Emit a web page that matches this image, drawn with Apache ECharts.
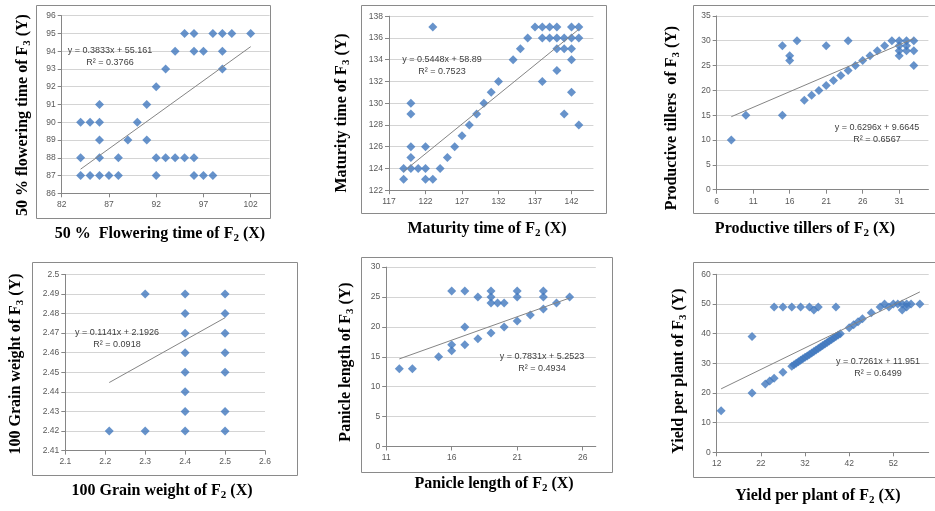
<!DOCTYPE html>
<html><head><meta charset="utf-8">
<script src="https://cdn.jsdelivr.net/npm/echarts@6/dist/echarts.min.js"></script>
<style>html,body{margin:0;padding:0;background:#fff}#c{width:935px;height:511px}</style>
</head><body><div id="c"></div>
<script>
// ---------- DATA ----------
const flowerF2 = [95,96,98,99,100,102, 94,96,97,99, 93,99, 92, 86,91, 84,85,86,90, 86,89,91, 84,86,88,92,93,94,95,96, 84,85,86,87,88,92,96,97,98];
const flowerF3 = [95,95,95,95,95,95, 94,94,94,94, 93,93, 92, 91,91, 90,90,90,90, 89,89,89, 88,88,88,88,88,88,88,88, 87,87,87,87,87,87,87,87,87];

const maturityF2 = [123,137,138,139,140,142,143, 136,138,139,140,141,142,143, 135,140,141,142, 134,142, 140, 132,138, 131,142, 120,130, 120,129,141, 128,143, 127, 120,122,126, 120,125, 119,120,121,122,124, 119,122,123];
const maturityF3 = [137,137,137,137,137,137,137, 136,136,136,136,136,136,136, 135,135,135,135, 134,134, 133, 132,132, 131,131, 130,130, 129,129,129, 128,128, 127, 126,126,126, 125,125, 124,124,124,124,124, 123,123,123];

const tillersF2 = [17,24,30,31,32,33, 15,21,29,31,32, 28,31,32,33, 16,27,31, 16,26, 25,33, 24, 23, 22, 21, 20, 19, 18, 10,15, 8];
const tillersF3 = [30,30,30,30,30,30, 29,29,29,29,29, 28,28,28,28, 27,27,27, 26,26, 25,25, 24, 23, 22, 21, 20, 19, 18, 15,15, 10];

const grainF2 = [2.3,2.4,2.5, 2.4,2.5, 2.4,2.5, 2.4,2.5, 2.4,2.5, 2.4, 2.4,2.5, 2.21,2.3,2.4,2.5];
const grainF3 = [2.49,2.49,2.49, 2.48,2.48, 2.47,2.47, 2.46,2.46, 2.45,2.45, 2.44, 2.43,2.43, 2.42,2.42,2.42,2.42];

const panicleF2 = [16,17,19,21,23, 18,19,21,23,25, 19,19.5,20,24, 23, 22, 21, 17,20, 19, 18, 16,17, 16, 15, 12,13];
const panicleF3 = [26,26,26,26,26, 25,25,25,25,25, 24,24,24,24, 23, 22, 21, 20,20, 19, 18, 17,17, 16, 15, 13,13];

const yieldF2 = [13,20,20, 25,27,29,31,33,34,35,39, 23,24,25,27,29,29.5,30,30.5,31,31.5,32,32.5,33,33.5,34,34.5,35,35.5,36,36.5,37,37.5,38,38.5,39,39.5,40,42,43,44,45,47, 49,50,51,52,53,54,54,55,55,56,58];
const yieldF3 = [14,20,39, 49,49,49,49,49,48,49,49, 23,24,25,27,29,29.5,30,30.5,31,31.5,32,32.5,33,33.5,34,34.5,35,35.5,36,36.5,37,37.5,38,38.5,39,39.5,40,42,43,44,45,47, 49,50,49,50,50,48,50,49,50,50,50];

const trendSlopes = [0.3833, 0.5448, 0.6296, 0.1141, 0.7831, 0.7261];
const trendIntercepts = [55.161, 58.89, 9.6645, 2.1926, 5.2523, 11.951];
const eqLabels = ['y = 0.3833x + 55.161','y = 0.5448x + 58.89','y = 0.6296x + 9.6645','y = 0.1141x + 2.1926','y = 0.7831x + 5.2523','y = 0.7261x + 11.951'];
const r2Labels = ['R² = 0.3766','R² = 0.7523','R² = 0.6567','R² = 0.0918','R² = 0.4934','R² = 0.6499'];

const xTickLabels = [[82,87,92,97,102],[117,122,127,132,137,142],[6,11,16,21,26,31],[2.1,2.2,2.3,2.4,2.5,2.6],[11,16,21,26],[12,22,32,42,52]];
const xRanges = [[82,104],[117,145],[6,35],[2.1,2.6],[11,27],[12,60]];
const yRanges = [[86,96,1],[122,138,2],[0,35,5],[2.41,2.5,0.01],[0,30,5],[0,60,10]];

// titles: [main, subscript, tail]
const yTitles = [['50 % flowering time of F','3',' (Y)'],['Maturity time of F','3',' (Y)'],['Productive tillers  of F','3',' (Y)'],['100 Grain weight of F','3',' (Y)'],['Panicle length of F','3',' (Y)'],['Yield per plant of F','3',' (Y)']];
const xTitles = [['50 %  Flowering time of F','2',' (X)'],['Maturity time of F','2',' (X)'],['Productive tillers of F','2',' (X)'],['100 Grain weight of F','2',' (X)'],['Panicle length of F','2',' (X)'],['Yield per plant of F','2',' (X)']];

const seriesX = [flowerF2, maturityF2, tillersF2, grainF2, panicleF2, yieldF2];
const seriesY = [flowerF3, maturityF3, tillersF3, grainF3, panicleF3, yieldF3];

// ---------- LAYOUT ----------
const gridBoxes = [[61.7,15.7,207.9,177.6],[389,16.2,204.4,174],[716.7,15.9,211.7,173.8],[65.3,274.4,199.7,176.2],[386.2,267.1,209.6,179.4],[716.7,274.3,212,178]];
const frameBoxes = [[36,5,234,213],[361,5,245,208],[693,5,260,208],[32,262,265,213],[361,257,251,215],[693,262,260,215]];
const yTitlePos = [[24,115],[343,113],[673,118],[17,364],[347,362],[680,371]];
const xTitlePos = [[160,235],[487,230],[805,230],[162,492],[494,485],[818,497]];
const eqPos = [[110,45],[442,54],[877,122],[117,327],[542,351],[878,356]];

const BLUE = '#4178BE';
const grid = [], xAxis = [], yAxis = [], series = [], graphic = [];
const richTitle = (t) => ({
  text: '{m|' + t[0] + '}{s|' + t[1] + '}{m|' + t[2] + '}',
  rich: {
    m: {fontFamily: '"Liberation Serif","Times New Roman",serif', fontWeight: 'bold', fontSize: 16, lineHeight: 18, verticalAlign: 'top', fill: '#000'},
    s: {fontFamily: '"Liberation Serif","Times New Roman",serif', fontWeight: 'bold', fontSize: 11, lineHeight: 12, verticalAlign: 'bottom', fill: '#000'}
  },
  align: 'center', verticalAlign: 'middle'
});

for (let i = 0; i < 6; i++) {
  const g = gridBoxes[i];
  grid.push({left: g[0], top: g[1], width: g[2], height: g[3], outerBoundsMode: 'none', containLabel: false});
  xAxis.push({
    type: 'value', gridIndex: i, min: xRanges[i][0], max: xRanges[i][1],
    axisLine: {show: true, onZero: false, lineStyle: {color: '#868686', width: 1}},
    axisTick: {show: true, length: 4, customValues: xTickLabels[i], lineStyle: {color: '#868686'}},
    axisLabel: {customValues: xTickLabels[i], fontSize: 8.5, color: '#595959', margin: 7, fontFamily: '"Liberation Sans",Arial,sans-serif'},
    splitLine: {show: false}
  });
  yAxis.push({
    type: 'value', gridIndex: i, min: yRanges[i][0], max: yRanges[i][1], interval: yRanges[i][2],
    axisLine: {show: true, onZero: false, lineStyle: {color: '#868686', width: 1}},
    axisTick: {show: true, length: 4, lineStyle: {color: '#868686'}},
    axisLabel: {fontSize: 8.5, color: '#595959', margin: 6, fontFamily: '"Liberation Sans",Arial,sans-serif'},
    splitLine: {show: true, lineStyle: {color: '#d4d4d4', width: 1}}
  });
  const xs = seriesX[i], ys = seriesY[i];
  series.push({
    type: 'scatter', xAxisIndex: i, yAxisIndex: i, symbol: 'diamond', symbolSize: 9,
    itemStyle: {color: BLUE}, data: xs.map((v, k) => [v, ys[k]]), z: 2
  });
  const x0 = Math.min(...xs), x1 = Math.max(...xs);
  series.push({
    type: 'line', xAxisIndex: i, yAxisIndex: i, showSymbol: false, symbol: 'none', silent: true,
    lineStyle: {color: '#858585', width: 1}, z: 3,
    data: [[x0, trendSlopes[i] * x0 + trendIntercepts[i]], [x1, trendSlopes[i] * x1 + trendIntercepts[i]]]
  });
  const f = frameBoxes[i];
  graphic.push({type: 'rect', shape: {x: f[0] + 0.5, y: f[1] + 0.5, width: f[2], height: f[3]}, style: {fill: 'none', stroke: '#8a8a8a', lineWidth: 1}, z: 0, silent: true});
  graphic.push({type: 'text', x: yTitlePos[i][0], y: yTitlePos[i][1], rotation: Math.PI / 2, style: richTitle(yTitles[i]), silent: true});
  graphic.push({type: 'text', x: xTitlePos[i][0], y: xTitlePos[i][1], style: richTitle(xTitles[i]), silent: true});
  graphic.push({type: 'text', x: eqPos[i][0], y: eqPos[i][1], style: {text: eqLabels[i] + '\n' + r2Labels[i], align: 'center', verticalAlign: 'top', font: '9px "Liberation Sans",Arial,sans-serif', lineHeight: 12, fill: '#404040'}, silent: true, z: 10});
}

const chart = echarts.init(document.getElementById('c'), null, {renderer: 'canvas'});
chart.setOption({animation: false, backgroundColor: '#fff', grid, xAxis, yAxis, series, graphic});
</script>
</body></html>
